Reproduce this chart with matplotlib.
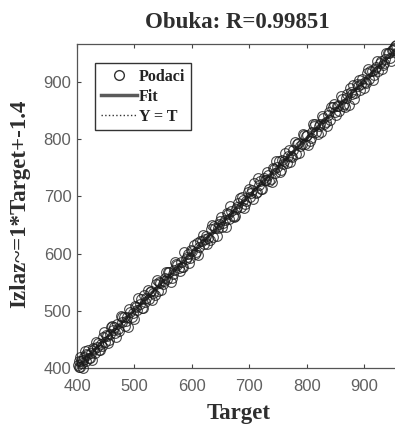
import matplotlib.pyplot as plt
from matplotlib.lines import Line2D
import numpy as np

# podaci procitani sa slike (target, izlaz)
target = [402, 404, 407, 409, 412, 415, 418, 421, 425, 428, 431, 434, 438, 441,
          445, 448, 452, 456, 459, 463, 466, 470, 474, 478, 481, 485, 489, 493, 497,
          501, 505, 509, 513, 517, 521, 525, 529, 533, 537, 541, 545, 549, 553, 557,
          561, 565, 569, 573, 577, 581, 585, 589, 593, 597, 601, 605, 609, 613, 617,
          621, 625, 629, 633, 637, 641, 645, 649, 653, 657, 661, 665, 669, 673, 677,
          681, 685, 689, 693, 697, 701, 705, 709, 713, 717, 721, 725, 729, 733, 737,
          741, 745, 749, 753, 757, 761, 765, 769, 773, 777, 781, 785, 789, 793, 797,
          801, 805, 809, 813, 817, 821, 825, 829, 833, 837, 841, 845, 849, 853, 857,
          861, 865, 869, 873, 877, 881, 885, 889, 893, 897, 901, 905, 909, 913, 917,
          921, 925, 929, 933, 937, 941, 945, 949, 953,
          403, 406, 411, 416, 423, 430, 436, 443, 450, 458, 465, 472, 479, 487, 495,
          503, 511, 519, 527, 535, 543, 551, 559, 567, 575, 583, 591, 599, 607, 615,
          623, 631, 639, 647, 655, 663, 671, 679, 687, 695, 703, 711, 719, 727, 735,
          743, 751, 759, 767, 775, 783, 791, 799, 807, 815, 823, 831, 839, 847, 855,
          863, 871, 879, 887, 895, 903, 911, 919, 927, 935, 943, 951, 955,
          405, 410, 414, 420, 426, 433, 440, 447, 454, 461, 468, 476, 483, 491, 499,
          507, 515, 523, 531, 539, 547, 555, 563, 571, 579, 587, 595, 603, 611, 619,
          627, 635, 643, 651, 659, 667, 675, 683, 691, 699, 707, 715, 723, 731, 739,
          747, 755, 763, 771, 779, 787, 795, 803, 811, 819, 827, 835, 843, 851, 859,
          867, 875, 883, 891, 899, 907, 915, 923, 931, 939, 947, 952]
izlaz = [406, 401, 413, 408, 420, 413, 423, 417, 427, 435, 426, 437, 432, 442,
         454, 446, 456, 449, 471, 466, 462, 476, 465, 480, 489, 482, 471, 498, 496,
         508, 501, 511, 505, 527, 522, 520, 535, 531, 546, 535, 548, 546, 558, 556,
         567, 558, 571, 581, 574, 585, 576, 590, 600, 593, 604, 599, 618, 612, 621,
         616, 631, 627, 643, 629, 644, 644, 656, 647, 659, 670, 661, 674, 663, 678,
         689, 682, 693, 686, 708, 699, 711, 723, 708, 720, 712, 732, 728, 738, 731,
         750, 741, 751, 742, 763, 762, 758, 781, 770, 781, 773, 793, 787, 808, 792,
         807, 796, 812, 823, 813, 822, 813, 836, 830, 842, 834, 856, 847, 857, 849,
         870, 862, 871, 859, 883, 894, 880, 892, 885, 904, 899, 915, 905, 918, 911,
         925, 918, 937, 930, 939, 950, 941, 955, 963,
         412, 402, 414, 425, 417, 434, 444, 438, 457, 459, 471, 468, 489, 489, 489,
         507, 520, 516, 532, 527, 550, 552, 568, 565, 580, 577, 594, 607, 603, 621,
         625, 624, 648, 651, 653, 669, 666, 682, 699, 691, 706, 705, 727, 729, 726,
         748, 762, 757, 771, 769, 792, 792, 806, 802, 827, 826, 827, 847, 861, 857,
         857, 878, 878, 896, 896, 898, 919, 922, 933, 933, 950, 955, 964,
         419, 400, 429, 431, 414, 446, 431, 463, 443, 474, 455, 491, 473, 503, 485,
         523, 504, 536, 519, 554, 537, 567, 550, 585, 570, 603, 583, 614, 597, 632,
         617, 650, 631, 663, 646, 683, 666, 697, 680, 712, 695, 732, 713, 743, 725,
         762, 746, 776, 759, 795, 776, 807, 790, 826, 809, 841, 823, 856, 842, 875,
         856, 889, 870, 903, 889, 922, 903, 936, 922, 951, 937, 959]

xticks = [400, 500, 600, 700, 800, 900]
yticks = [400, 500, 600, 700, 800, 900]
lim = (400, 966)

W, H = 395, 425
fig = plt.figure(figsize=(W / 100, H / 100), dpi=100)
# desna ivica osa izlazi van slike kao na originalu
ax = fig.add_axes([77 / W, (H - 368) / H, 325 / W, 324 / H])

t = np.array(target, dtype=float)
y = np.array(izlaz, dtype=float)
k, n = np.polyfit(t, y, 1)
xl = np.array(lim, dtype=float)

ax.plot(xl, k * xl + n, color='#5a5a5a', lw=2.2, zorder=1)
ax.plot(xl, xl, ls=':', color='#333333', lw=1.0, zorder=2)
ax.plot(t, y, ls='', marker='o', ms=7, mfc='none', mec='#1a1a1a', mew=0.8,
        alpha=0.8, zorder=3, clip_on=False)

ax.set_xlim(lim)
ax.set_ylim(lim)
ax.set_xticks(xticks)
ax.set_yticks(yticks)
ax.tick_params(direction='in', length=3, width=0.8, color='#444444',
               labelcolor='#606060', labelsize=12, top=True, right=True)
ax.tick_params(axis='x', pad=8)
ax.tick_params(axis='y', pad=4)
for lbl in ax.get_xticklabels() + ax.get_yticklabels():
    lbl.set_family('Liberation Sans')
for s in ax.spines.values():
    s.set_color('#555555')
    s.set_linewidth(0.9)

serif = dict(family='Liberation Serif', weight='bold', color='#2e2e2e')
fig.text(237 / W, 1 - 23 / H, 'Obuka: R=0.99851', ha='center', va='center',
         fontsize=16.5, **serif)
fig.text(239 / W, 1 - 413 / H, 'Target', ha='center', va='center',
         fontsize=16.5, **serif)
fig.text(20 / W, 1 - 204 / H, 'Izlaz~=1*Target+-1.4', ha='center', va='center',
         rotation=90, fontsize=16.5, **serif)

handles = [Line2D([], [], ls='', marker='o', ms=7, mfc='none', mec='#333333', mew=1.0),
           Line2D([], [], color='#5a5a5a', lw=2.5),
           Line2D([], [], ls=':', color='#333333', lw=1.0)]
leg = ax.legend(handles, ['Podaci', 'Fit', 'Y = T'], loc='upper left',
                bbox_to_anchor=((95 - 77) / 325, 1 - (63 - 44) / 324), fancybox=False,
                framealpha=1, edgecolor='#333333', handlelength=2.3,
                handletextpad=0.1, borderpad=0.35, labelspacing=0.25,
                borderaxespad=0, prop=dict(family='Liberation Serif', weight='bold', size=11.5))
leg.get_frame().set_linewidth(1.0)
for txt in leg.get_texts():
    txt.set_color('#222222')

fig.savefig('out.png', dpi=100)
